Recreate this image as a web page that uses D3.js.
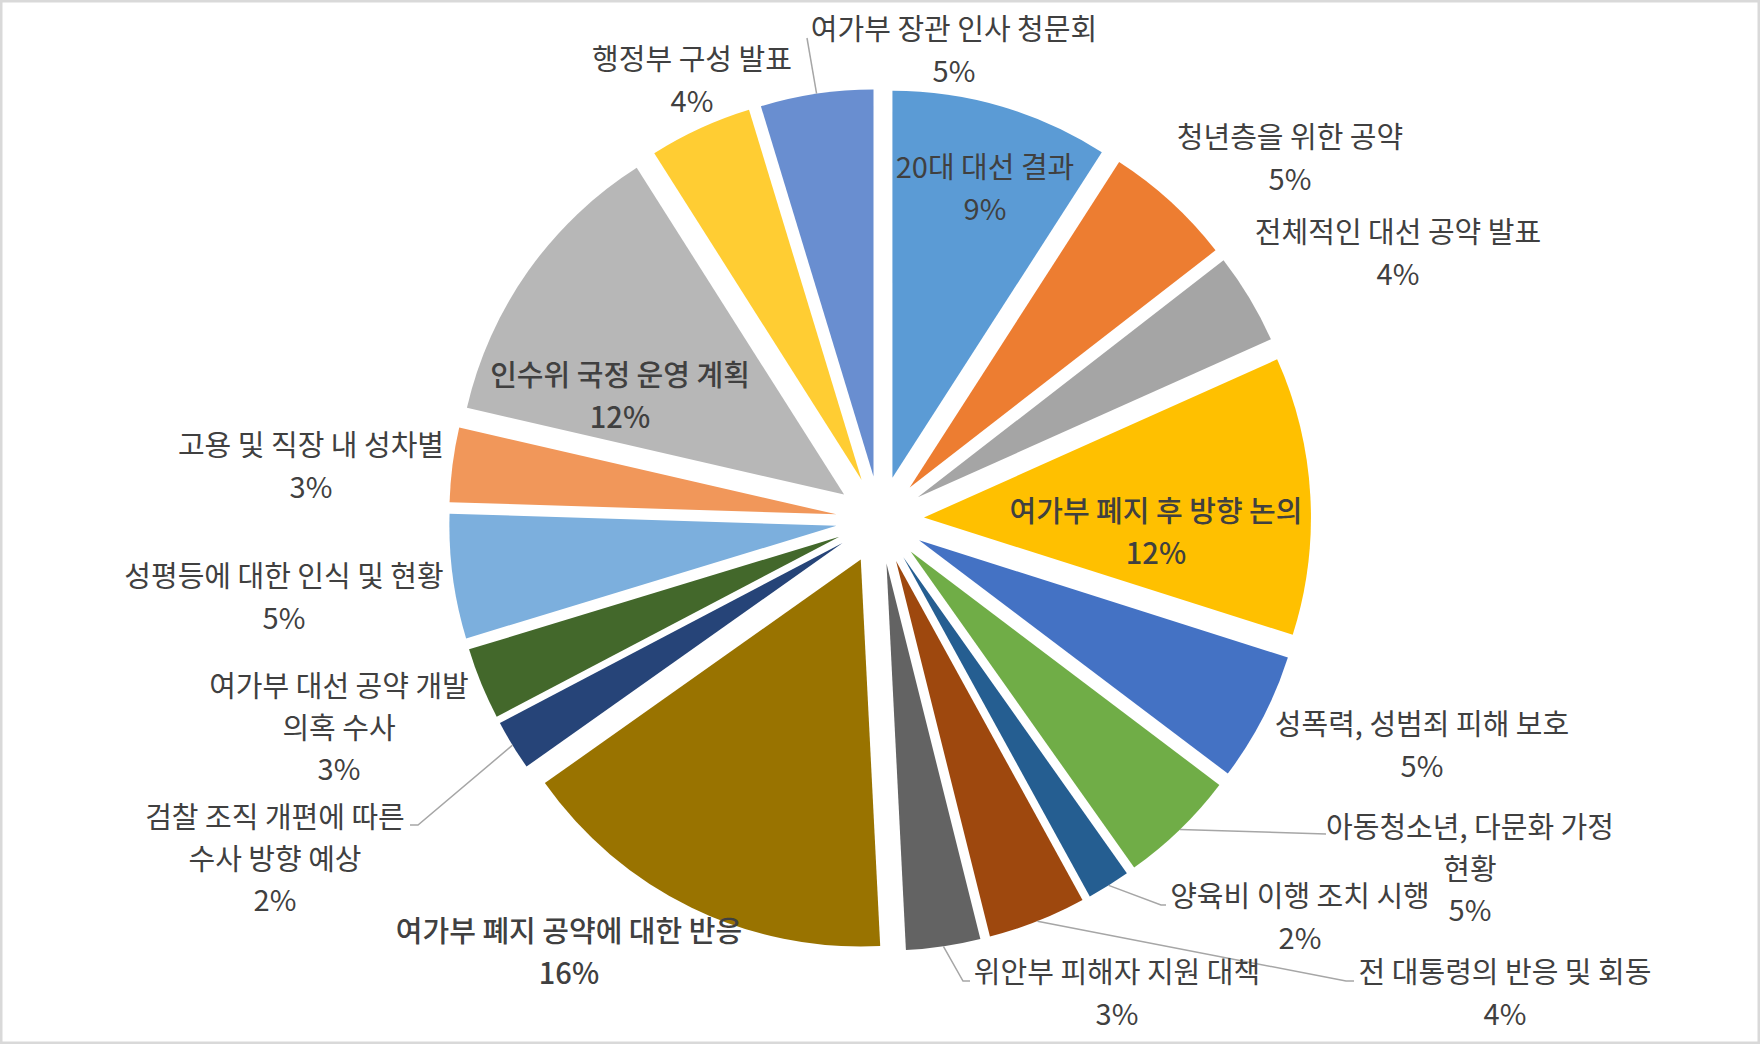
<!DOCTYPE html>
<html>
<head>
<meta charset="utf-8">
<script src="https://cdn.jsdelivr.net/npm/d3@7"></script>
<style>
  html, body { margin: 0; padding: 0; background: #fff; }
  svg { display: block; }
</style>
</head>
<body>
<svg id="chart" width="1760" height="1044"></svg>
<script>
// slice names (label lines), clockwise from 12 o'clock
const categories = [
  ['20대 대선 결과'],
  ['청년층을 위한 공약'],
  ['전체적인 대선 공약 발표'],
  ['여가부 폐지 후 방향 논의'],
  ['성폭력, 성범죄 피해 보호'],
  ['아동청소년, 다문화 가정', '현황'],
  ['양육비 이행 조치 시행'],
  ['전 대통령의 반응 및 회동'],
  ['위안부 피해자 지원 대책'],
  ['여가부 폐지 공약에 대한 반응'],
  ['검찰 조직 개편에 따른', '수사 방향 예상'],
  ['여가부 대선 공약 개발', '의혹 수사'],
  ['성평등에 대한 인식 및 현황'],
  ['고용 및 직장 내 성차별'],
  ['인수위 국정 운영 계획'],
  ['행정부 구성 발표'],
  ['여가부 장관 인사 청문회']
];

// share in percent
const values = [9.1, 5.4, 3.8, 11.6, 5.4, 4.9, 1.8, 4.1, 3.1, 16.0, 2.1, 3.0, 5.2, 3.1, 12.4, 4.3, 4.7];

const colors = [
  '#5B9BD5', '#ED7D31', '#A5A5A5', '#FFC000', '#4472C4', '#70AD47',
  '#255E91', '#9E480E', '#636363', '#997300', '#264478', '#43682B',
  '#7CAFDD', '#F1975A', '#B7B7B7', '#FFCD33', '#698ED0'
];

// layout only: centre of the first label line for each slice
const labelAt = [
  [985, 167], [1290, 137], [1398, 232], [1156, 511], [1422, 724],
  [1470, 827], [1300, 896], [1505, 972], [1117, 972], [569, 931],
  [275, 817], [339, 686], [284, 576], [311, 445], [620, 375],
  [692, 59], [954, 29]
];
// leader line end points (null = no leader)
const leaderTo = [
  null, null, null, null, null,
  [[1326, 834]],
  [[1161, 905], [1166, 905]],
  [[1346, 981], [1354, 981]],
  [[963, 981], [970, 981]],
  null,
  [[418, 825], [410, 825]],
  null, null, null, null, null,
  [[807, 38]]
];
const strongLabels = [3, 9, 14];

const svg = d3.select('#chart');
const width = +svg.attr('width');
const height = +svg.attr('height');

const cx = 880, cy = 520;
const radius = 387;
const explode = 44;
const lineGap = 41.5;

svg.append('rect')
  .attr('x', 1.25).attr('y', 1.25)
  .attr('width', width - 2.5).attr('height', height - 2.5)
  .attr('fill', '#fff')
  .attr('stroke', '#D9D9D9')
  .attr('stroke-width', 2.5);

const pie = d3.pie().sort(null).value(d => d)(values);
const arc = d3.arc().innerRadius(0).outerRadius(radius);

const offset = (d, r) => {
  const a = (d.startAngle + d.endAngle) / 2;
  return [Math.sin(a) * r, -Math.cos(a) * r];
};

const g = svg.append('g').attr('transform', `translate(${cx},${cy})`);

g.selectAll('path.slice')
  .data(pie)
  .enter().append('path')
    .attr('class', 'slice')
    .attr('d', arc)
    .attr('fill', (d, i) => colors[i])
    .attr('transform', d => {
      const [dx, dy] = offset(d, explode);
      return `translate(${dx},${dy})`;
    });

// leader lines
const line = d3.line();
pie.forEach((d, i) => {
  if (!leaderTo[i]) return;
  const [ex, ey] = offset(d, explode);
  const [ox, oy] = offset(d, radius);
  const pts = [[cx + ex + ox, cy + ey + oy]].concat(leaderTo[i]);
  svg.append('path')
    .attr('d', line(pts))
    .attr('fill', 'none')
    .attr('stroke', '#A6A6A6')
    .attr('stroke-width', 1.5);
});

// data labels
const labels = svg.append('g')
  .attr('font-family', '"Noto Sans CJK KR", "Noto Sans", sans-serif')
  .attr('font-size', 29)
  .attr('fill', '#404040')
  .attr('text-anchor', 'middle');

pie.forEach((d, i) => {
  const [lx, ly] = labelAt[i];
  const lines = categories[i].concat([Math.round(d.data) + '%']);
  const t = labels.append('text')
    .attr('font-weight', strongLabels.includes(i) ? 500 : 400);
  lines.forEach((s, k) => {
    t.append('tspan')
      .attr('x', lx)
      .attr('y', ly + k * lineGap + 11)
      .text(s);
  });
});
</script>
</body>
</html>
